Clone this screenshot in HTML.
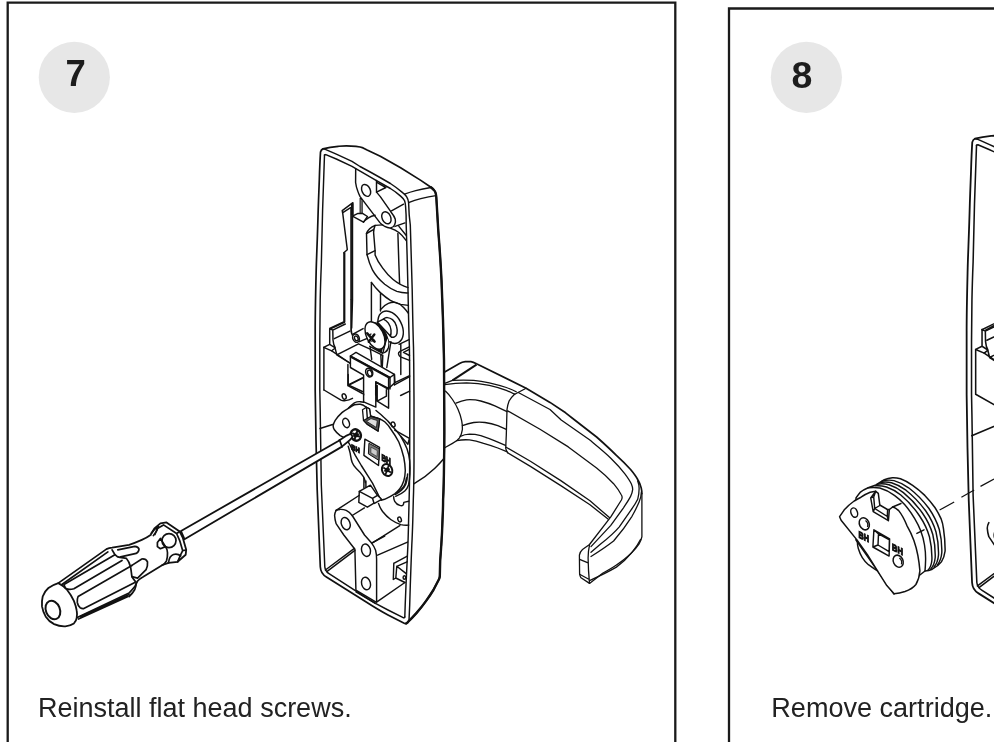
<!DOCTYPE html>
<html><head><meta charset="utf-8">
<style>
html,body{margin:0;padding:0;background:#fff;}
body{width:994px;height:742px;overflow:hidden;position:relative;font-family:"Liberation Sans",sans-serif;}
svg{position:absolute;left:0;top:0;display:block}
svg{filter:grayscale(1)}
.k{fill:none;stroke:#111;stroke-width:1.45;stroke-linecap:round;stroke-linejoin:round}
.w{fill:#fff;stroke:#111;stroke-width:1.45;stroke-linecap:round;stroke-linejoin:round}
.t{fill:none;stroke:#111;stroke-width:1.3;stroke-linecap:round;stroke-linejoin:round}
.tw{fill:#fff;stroke:#111;stroke-width:.9;stroke-linecap:round;stroke-linejoin:round}
.d{fill:none;stroke:#111;stroke-width:1.7;stroke-linecap:round;stroke-linejoin:round}
.b{fill:none;stroke:#111;stroke-width:1.7;stroke-linecap:round;stroke-linejoin:round}
</style></head><body>
<svg width="994" height="742" viewBox="0 0 994 742">
<rect width="994" height="742" fill="#fff"/>
<!-- panels -->
<path d="M7.7 742V2.6H675.3V742" fill="none" stroke="#1a1a1a" stroke-width="2.3"/>
<path d="M729 742V8.5H994" fill="none" stroke="#1a1a1a" stroke-width="2.3"/>
<circle cx="74.3" cy="77.3" r="35.6" fill="#e6e7e8"/>
<circle cx="806.4" cy="77.3" r="35.6" fill="#e6e7e8"/>
<text x="75.6" y="86.2" font-size="36.5" font-weight="700" text-anchor="middle" fill="#1d1d1f">7</text>
<text x="802" y="87.5" font-size="37.5" font-weight="700" text-anchor="middle" fill="#1d1d1f">8</text>
<text x="38" y="716.6" font-size="27" fill="#222">Reinstall flat head screws.</text>
<text x="771.3" y="716.6" font-size="27" textLength="221" lengthAdjust="spacingAndGlyphs" fill="#222">Remove cartridge.</text>
<!-- LEFT DRAWING -->
<g id="plate7">
<!-- outer silhouette -->
<path class="b" d="M320.5 152.1C320 160 319.6 170 319.3 180C318.9 192 318.5 200 318.2 210C317.4 240 316.6 255 316.2 270C315.6 295 315.2 310 315.2 330L315.2 390C315.4 410 315.7 425 316 440L317.2 490L318.8 530L320.3 566.8C320.6 572 322.5 574.8 326.4 577L365 601.3C372 605.8 380 610.8 388 615L403.7 623.1C404.8 623.6 405.6 623.7 406.3 623.4C407.2 623 407.9 622.3 408.5 621.3C411.5 618.5 414 615.8 416.4 613.1C420 609 423.2 605 426.1 600.9C428.8 597.2 431.2 593.6 433.4 590L439 579.2C439.5 578.2 439.7 577.5 439.8 576.2C440 570 440.1 565 440.2 560C440.7 554 441 549 441.3 545C441.9 536 442.3 528 442.5 520C442.9 512 443.1 506 443.1 500C443.6 490 443.9 478 444 465C444.3 450 444.4 435 444.3 420C444.3 400 444.2 380 444 360C443.7 345 443.4 332 443 320C442.6 306 442.1 293 441.5 280C440.6 262 439.5 246 438.3 231C437.6 219 436.9 207 436.3 197.3C436 193.3 435.2 191.4 434.3 190.5C433.3 189.3 432 188.1 430.9 187.3L420.8 180.4L400.6 167.8L380.3 156.2L367.1 150L363.1 147.9C361.5 147.2 359 146.7 356 146.4C353 146.1 349.5 145.9 346.4 145.9C343.5 145.9 341 146.1 338.3 146.3L330.2 147.3L322.9 148.9C321.8 149.3 321 150.3 320.5 152.1Z"/>
<path d="M406.3 623.4C407.2 623 407.9 622.3 408.5 621.3C411.5 618.5 414 615.8 416.4 613.1C420 609 423.2 605 426.1 600.9C428.8 597.2 431.2 593.6 433.4 590L439 579.2C439.5 578.2 439.7 577.5 439.8 576.2C440 570 440.1 565 440.2 560C440.7 554 441 549 441.3 545C441.9 536 442.3 528 442.5 520C442.9 512 443.1 506 443.1 500C443.6 490 443.9 478 444 465C444.3 450 444.4 435 444.3 420C444.3 400 444.2 380 444 360C443.7 345 443.4 332 443 320C442.6 306 442.1 293 441.5 280C440.6 262 439.5 246 438.3 231C437.6 219 436.9 207 436.3 197.3C436 193.3 435.2 191.4 434.3 190.5C433.3 189.3 432 188.1 430.9 187.3" fill="none" stroke="#111" stroke-width="2.4" stroke-linecap="round" stroke-linejoin="round"/>
<!-- front rim outer -->
<path class="k" d="M322.9 148.9L325.3 149.3L336.3 154.2L352 161.4L360 166.5L370.2 172L380 177.5L390.4 183.5C395 186.5 399 189.5 402.6 192.6C405 194.5 406.2 195.8 406.6 196.6C407.8 198.5 408.3 200.5 408.6 202.7L409.2 215L410.3 225L411.2 255L412.2 290C412.6 310 412.9 330 413.5 347C413.8 365 414 385 414 400L414 462C413.9 478 413.7 490 413.3 500L412.8 520C412.5 530 412.2 538 411.8 545L411.2 560L410.3 585L409.7 605L409 620.5"/>
<!-- inner rim -->
<path class="k" d="M324.5 155L325.8 154.6L336.3 159L352 166.3L355.8 168.6L375.2 179.9L390.4 188.5C394.5 191 398 193.8 400.6 196.1C402.8 198 404 199.3 404.6 200.7C405.2 202.5 405.5 204.5 405.6 206.7L406.1 215L406.2 225L407.1 255L408 290C408.4 310 408.8 330 409.4 347C409.7 365 409.8 385 409.8 400L409.7 462C409.6 478 409.4 490 409.1 500L408.6 520C408.4 530 408.2 538 407.9 545L407.2 560L406 585L405.2 605L404.8 617"/>
<path class="k" d="M324.5 155C323.8 175 323.2 195 322.6 210L321.3 265C320.7 280 320.4 290 320.2 300L319.8 340L319.8 390L320.2 410L321.3 485L324.8 566.8C325.2 570.5 326.5 572.2 329.4 573.9L365 596.8C372 601.5 380 606 388 610L403.2 617.7C404 618 404.5 617.8 404.8 617"/>
<!-- top side arcs -->
<path class="k" d="M404.6 194.1C408 192.8 411.8 191.6 415.7 190.6C420.5 189.4 425.5 188.4 430.9 187.5"/>
<path class="k" d="M409.2 202.4C413 200.9 416.8 199.7 420.8 198.6C425.5 197.4 430 196.4 436 195.6"/>
</g>
<g id="top7">
<!-- top bracket link -->
<path class="k" d="M355.7 168.6L355.6 182.5C356 185.5 356.6 188 357.6 190.6C358.3 192.8 359.2 194.8 360.1 196.6L379.7 222.4C381.5 224.6 383 225.8 384.7 226.4C387 227.6 389 228.2 390.8 227.9C393 227.3 394.3 226 394.8 224.4C395.6 222.5 395.6 221 395.3 219.3C394.5 216.5 392.8 214.2 390.8 211.7L380.3 196.6L376.5 192.1L376.5 180.5"/>
<ellipse class="k" cx="366.1" cy="190.4" rx="4.1" ry="6.3" transform="rotate(-25 366.1 190.4)"/>
<ellipse class="k" cx="386.4" cy="217.8" rx="4.3" ry="6.3" transform="rotate(-25 386.4 217.8)"/>
<path class="k" d="M376.5 192.1L385.9 187.5L376.8 182.3M391.5 210.8L403.6 204.2M395 226.4L405 222.9M398.9 226.4L406.3 235.5M390.8 228.4C394 229.5 396.5 230.8 398.9 232.5C401.8 234.8 404 237.5 406.3 240.6"/>
<!-- double shaded vertical -->
<path d="M360.1 198L362.2 200.5V213.4H360.1Z" fill="#999" stroke="#111" stroke-width="1"/>
<!-- small box -->
<path class="k" d="M352.4 216.1L358 213.4L362.5 213.4L367.5 216.5L363.5 222.2Z"/>
<path class="k" d="M363.5 222.2C365 220 366.5 219 368.5 217.8C370.5 216.6 372.8 215.8 375.1 215.3"/>
<!-- left tab -->
<path class="k" d="M352.9 215.3V202.6L342.2 210.7L342.8 213.8L347.3 249.7L343.8 252.7"/>
<path d="M344.3 252.5V322L329.8 328.7" fill="none" stroke="#111" stroke-width="2.2" stroke-linejoin="round"/>
<path d="M352.1 203.5V215" fill="none" stroke="#111" stroke-width="2.4"/>
<path class="k" d="M342.8 212.7L350.6 207.7"/>
<path d="M351.1 207.5V300" fill="none" stroke="#111" stroke-width="1.7"/>
<!-- big opening -->
<path class="k" d="M382.7 224.9L375.1 225.4C371 227 367.8 230 366.5 233.5L367 254.7C368.3 260 370 265 372.6 270.2C375.5 275.5 379.5 280 384.7 284.3C388.5 287.3 392.5 289.8 396.8 291.4C400.5 292.5 404 293 408 292.9"/>
<path class="k" d="M375.1 225.4C374 228 373.6 230 373.6 232.5L375.1 250.7V255C377 260 379.5 264 382.7 268.1C385.5 272 389 276 392.8 279.3C397 282.8 402 285.8 408 287.6"/>
<path class="k" d="M367 254.7L375.1 250.7M366.5 233.5L373.4 229.6M352.5 216V300L351.7 328"/>
<path class="k" d="M371.4 282.4C374 286 377 289.5 380.3 292.6C383.5 295.5 387 298.2 390.4 300.3C393.8 302.2 397 303.5 400.6 304.4L408.4 305.4"/>
<path class="k" d="M371.4 282.4V322M380.5 293.8V311M397.9 233.5L398.9 265L399.6 283.5"/>
</g>
<g id="cart7">
<!-- back plate behind T clip -->
<path class="k" d="M324 390L341 400.2C342.5 400.9 343.8 401 345.4 400.6C348 400.2 350.3 399.4 352.5 398.3"/>
<ellipse class="k" cx="344.2" cy="396.5" rx="1.9" ry="2.8" transform="rotate(-20 344.2 396.5)"/>
<!-- T stem & pockets -->
<path class="k" d="M363.6 394V401.9L375.8 407.1V382L388.6 388.4V377.5M388.6 388.4V408.2L377.2 401.1V385.5M377.2 401.1L386.4 396.2V389.8"/>
<path class="k" d="M394.4 374.4L394.9 382.7L388.6 388.4M394.9 382.7L409.6 375.7M400.6 395.5L409.6 391.2"/>
<path class="k" d="M348.2 374.5V384.9L362.4 391.5M348.2 384.9L362.4 377.8"/>
<!-- line from rim to disc corner -->
<path class="k" d="M320 428.5L332.6 424.5"/>
<!-- disc outer edge (thickness) -->
<path class="k" d="M348.3 408.3C350.5 406 352.3 404.3 354.4 402.8C356.5 401.8 358.5 401.5 360.4 401.7L363.6 402.3"/>
<path class="k" d="M376 410.5C378.5 412.5 381 414.5 383.5 417C386.5 419.5 389 421.8 390.8 424.5C394.5 428.5 398 432.5 400.9 436.6C403.5 441 405.5 445 407 448.8C408.5 453 409.3 457 409.7 461C410.1 466 410.1 470 409.9 474C409.7 478 409.3 482 408.5 485C407.5 488 406 490 404.8 491C402 493.5 399 495 395.7 496.3"/>
<path class="k" d="M407.6 474C407.4 478 406.8 481.5 405.8 484.3C404.6 487 403 489 401.5 490.3C399.5 492 397.5 493.4 395.2 494.6M406.4 478C406 481.5 405 484.5 403.6 486.8C402 489 400 491 397.5 492.8"/>
<!-- disc face -->
<path class="w" d="M333.1 425.5C333.6 423.5 334.3 422 335.2 420.4C337.2 417.5 339.5 414.8 342.2 412.4C344.5 410.5 346.8 409.2 349.3 407.8C351 406.5 352.6 405.5 354.4 404.8C356.5 404.3 358.4 404.2 360.4 404.3L363.5 405.3L366.5 407.3L369.5 408.8L370.6 415.9L379.7 418.9C381.8 419.8 383.5 420.8 385 422C387.2 424 389 426.3 390.7 429C393.8 433.3 396.5 437.5 398.8 442C401 447 402.6 452.5 403.8 457.5C404.7 462 405.2 466.5 405.3 470.6C405.2 474.5 404.7 477.8 403.8 480.7C402.8 483.8 401.5 486.5 399.8 488.8C398.3 490.8 396.6 492.4 394.7 493.8C391 496.3 387.5 498 384.6 499.3L381 500.3L372.5 483.1L368.4 476.6L361.3 465.5L355.3 455.4L350.2 445.3L346.3 438.6L340.2 435.6C337.5 433.5 335.5 431.5 334.2 429.5C333.4 428 333.1 427 333.1 425.5Z"/>
<!-- wavy curve left-bottom -->
<path class="k" d="M348.2 446.3C349 449 349.7 451 350.2 453.4C350.8 457 351.2 460 352.2 462.5C353.2 465 354.5 466.8 356.3 468.5C359 471 361.5 473.8 363.4 476.6C364.5 478.5 365.1 480.5 365.4 482.7"/>
<!-- notch -->
<path d="M362.5 409.8L366.5 407.3L369.5 408.8L370.6 416.2L379.7 418.9L378.1 431.1L367.5 424.5L363.5 420.4Z" fill="#fff" stroke="#111" stroke-width="1.3" stroke-linejoin="round"/>
<path d="M363.5 420.4L370.6 416.4L379.7 418.9L378.1 431.1L367.5 424.5Z" fill="#555" stroke="#111" stroke-width="1.2" stroke-linejoin="round"/>
<path d="M366.5 421.3L371 418.6L377.3 420.5L376.4 427.5Z" fill="#ddd" stroke="#111" stroke-width=".8"/>
<path class="k" d="M366.5 407.3L367.3 418"/>
<!-- holes -->
<ellipse class="k" cx="346.1" cy="423" rx="3.2" ry="4.8" transform="rotate(-20 346.1 423)"/>
<ellipse class="k" cx="393.1" cy="424.5" rx="1.9" ry="2.6" transform="rotate(-20 393.1 424.5)"/>
<path class="k" d="M394.7 430.1L409 438.2M400.8 436.2L407.9 444.3L409.3 439"/>
<!-- square logo -->
<path class="k" d="M364.9 439.2L379.5 447.3L378.5 465.5L363.9 455.4Z"/>
<path d="M368.9 443.3L379.3 448.8L378.9 460.4L368.4 453.9Z" fill="#777" stroke="#111" stroke-width="1"/>
<path d="M371 447.2L377.3 450.6L377 456.5L370.8 452.8Z" fill="#ccc" stroke="#333" stroke-width=".7"/>
<text transform="matrix(.9 .43 0 1 351.2 449.2)" font-size="7.2" font-weight="700" fill="#111" stroke="#111" stroke-width="1.1" textLength="9.5" lengthAdjust="spacingAndGlyphs">BH</text>
<text transform="matrix(.9 .45 0 1 381.4 460.2)" font-size="9" font-weight="700" fill="#111" stroke="#111" stroke-width="1.1" textLength="10.5" lengthAdjust="spacingAndGlyphs">BH</text>
<!-- screws on disc -->
<ellipse cx="387.1" cy="470" rx="5" ry="6.2" transform="rotate(-25 387.1 470)" fill="#fff" stroke="#111" stroke-width="2"/>
<path d="M383.3 467.5L390.9 472.5M388.8 465.3L385.4 474.7M384.5 471.5L387 468M389.5 468.5L387.3 472" stroke="#111" stroke-width="1.7" fill="none"/>
<ellipse cx="355.8" cy="435" rx="5" ry="5.8" transform="rotate(-25 355.8 435)" fill="#fff" stroke="#111" stroke-width="2.4"/>
<path d="M352.2 433.2L359.8 436.8M357.5 430.5L354.5 439.5M353.5 436.5L356 433M358.5 433.5L356.3 437" stroke="#111" stroke-width="2" fill="none"/>
</g>
<g id="low7">
<!-- verticals under disc -->
<path class="k" d="M363.9 478V487.7M365.9 481V487"/>
<!-- small block -->
<path class="w" d="M359.3 491.4L370.4 485.2L377.5 495.3L381.6 499.3L374.5 503.4L374 503.2L367.4 507.2L358.8 502.4Z"/>
<path class="k" d="M359.3 491.4L372.5 498.3L374 503.2M372.5 498.3L377.5 495.3"/>
<!-- curved housing -->
<path class="k" d="M378.5 503.4C379.5 506.5 380.8 509 382.6 511.5C385 514.5 387.5 517.2 390.7 519.5C394 521.8 397.3 523.5 400.8 524.6C403.5 525.2 406 525.3 408.6 525.1"/>
<path class="k" d="M393.7 496.8C393.6 498.8 393.9 500 394.7 501.3C396 503.5 397.8 504.8 399.8 505.4C401 505.8 402 505.8 402.8 505.4C403.5 504.5 403.8 503.5 403.8 502.4L408.6 501.3"/>
<ellipse class="k" cx="399.6" cy="519.5" rx="1.7" ry="2.5" transform="rotate(-20 399.6 519.5)"/>
<!-- lower bracket -->
<path class="k" d="M336.1 510.4L359 495.5"/>
<path class="k" d="M352.2 515.5L364.4 507.9M372.5 542.8L399.8 525.6"/>
<path class="k" d="M336.1 510.4C335 512.5 334.6 514 334.6 515.6C334.8 518.5 335.3 521 336.1 523.6L343.8 535L354.9 549.2L355.9 590.1L376.1 602.2"/>
<path class="k" d="M356 592L375.3 603.5"/>
<path class="k" d="M336.1 510.4C337.5 509.7 338.8 509.4 340.1 509.4C342.3 509.3 344.3 509.6 346.2 510.4C348.5 511.5 350.5 513.2 352.2 515.5L364.5 535L371.6 543.1C373.3 545.3 374.6 547.5 375.6 550.2C376.3 553 376.6 556 376.6 559.3V602.2L404.9 582.5"/>
<ellipse class="k" cx="345.7" cy="523.6" rx="4.3" ry="6.3" transform="rotate(-20 345.7 523.6)"/>
<ellipse class="k" cx="366" cy="550.2" rx="4.4" ry="6.3" transform="rotate(-15 366 550.2)"/>
<ellipse class="k" cx="366" cy="583.5" rx="4.4" ry="6.3" transform="rotate(-15 366 583.5)"/>
<path class="k" d="M371.6 543.1L384.7 536M377.6 555.2L407.5 542.1"/>
<!-- floor edge -->
<path class="k" d="M325.4 570L354.4 548.4M326.8 571.6L354.9 550.4"/>
<!-- small box right -->
<path class="k" d="M393.8 563.3L407.3 556.2M393.8 563.3L393.3 579.5L395.8 578L404.9 582.5M396.8 566.3L407 561.8M396.8 566.3L395.8 578M396.8 566.3L405.9 573.4"/>
<ellipse class="k" cx="404.4" cy="577.5" rx="1.3" ry="1.8"/>
<!-- line on side face -->

</g>
<g id="screw7">
<!-- boss back -->
<path class="k" d="M380.5 309.6C382.5 307 385 304.8 388.4 303.4C391 302.3 393.5 302 395.5 302.4C398.5 303 401.2 304.8 403.6 307.4C405.3 309.2 406.8 311 408.4 313.2"/>
<!-- boss front ellipse -->
<ellipse class="w" cx="390.6" cy="327.2" rx="11.3" ry="17.2" transform="rotate(-27 390.6 327.2)"/>
<!-- collar -->
<path class="w" d="M383.4 319.1C385 317.8 386.3 317.5 387.4 317.6C389.5 317.8 391 318.5 392.5 319.6C394.5 321.3 395.8 323.5 396.5 326.2C397.2 328.5 397.3 331 397 333.3C396.6 335 395.8 336.2 394.5 336.8C393.5 337.3 392.5 337.4 391.5 337.3L377.3 322.1Z"/>
<path class="k" d="M383.4 319.1C385.5 320 387 321.3 388.4 323.1C389.8 325 390.7 327.5 391 330.2C391.2 332.5 391 334.5 390.4 336.3"/>
<!-- head side -->
<ellipse cx="378.6" cy="337.6" rx="8.3" ry="16" transform="rotate(-25 378.6 337.6)" fill="#111" stroke="#111" stroke-width="1.2"/>
<path d="M381.5 353.2C384 352.5 386.5 350.5 387.8 347.4C388.6 344.5 388.4 341.5 387.6 338.5L383 348Z" fill="#fff" stroke="none"/>
<!-- head -->
<ellipse class="w" cx="375" cy="335.5" rx="8.4" ry="14.8" transform="rotate(-27 375 335.5)"/>
<!-- phillips -->
<path d="M367.2 333.3L374.6 341.6M374.3 334.6L368.8 341.8" fill="none" stroke="#111" stroke-width="2.5" stroke-linecap="round"/>
<path d="M368.8 335.2L371 334M371.8 341.2L373.8 339.8" fill="none" stroke="#111" stroke-width="1.3" stroke-linecap="round"/>
</g>
<g id="mid7">
<!-- tab bottom block -->
<path class="k" d="M329.7 328.6L332.8 330.1L345.3 324M329.7 328.6V344.3L323.7 347.3L331.7 350.8L335.3 348L329.7 344.3M332.8 330.1L333 340C333.3 343.5 334 346 335.3 348"/>
<path class="k" d="M323.9 347.3V390"/>
<path class="k" d="M331.7 350.8L349.9 363"/>
<!-- ledge -->
<path class="k" d="M334.3 338.7L349.9 331.1M335.3 348.8L336.8 354.9L358.5 343.8L370.7 349.3M336.8 354.9L350.4 363.5"/>
<!-- left wall edge to pin hole -->
<path class="k" style="stroke-width:1.7" d="M351.1 300V330C351.2 332.5 351.7 333.8 352.5 335.2L355.5 341.7"/>
<path class="k" d="M353 334.2L363.1 328.6M359.5 341.7L366.6 338.7"/>
<ellipse class="w" cx="356" cy="338.2" rx="3.2" ry="4.3" transform="rotate(-25 356 338.2)"/>
<ellipse class="k" cx="356.3" cy="338.4" rx="1.7" ry="2.5" transform="rotate(-25 356.3 338.4)"/>
<!-- clip under screw -->
<path class="k" d="M369.7 346.3L382.8 353.4L386.8 337.2M370.7 349.3L381.8 354.9M370.2 347.8L371.7 359.4M380.8 354.5L381.3 365.6M382.8 355.3L382.3 366.6M390.9 341.7L386.8 367.5"/>
<!-- right notch -->
<path class="k" d="M399 344.3L409 339.7M400.8 343.6V374.6"/>
<path class="k" d="M409.3 346.8L400 351.3C398.6 352.2 398.3 353 398.5 353.9C398.8 355.3 399.5 356.2 400.5 356.9L409.5 360.4M409.3 349.3L403.5 352.3L409.5 355.5"/>
<path class="k" d="M394.9 384.7L409.6 376.6"/>
<!-- T clip -->
<path class="w" d="M350.4 356L356 352.4L394.4 374.4L390 377.5Z"/>
<path d="M350.4 356.6L390 378" fill="none" stroke="#111" stroke-width="2"/>
<path class="k" d="M394.4 374.4V385M390 377.5V389"/>
<path class="k" d="M350.4 356V367.5L363.6 375.1V395M375.7 382V395M375.7 382L388 389"/>
<path class="k" d="M347.9 364.5V385.7L362.5 393.5M347.9 385.7L362.6 378.1"/>
<ellipse class="k" cx="369.2" cy="372.6" rx="3.4" ry="4.5" transform="rotate(-25 369.2 372.6)"/>
<ellipse class="k" cx="369.7" cy="373.1" rx="2.1" ry="3.1" transform="rotate(-25 369.7 373.1)"/>
</g>
<g id="handle7">
<!-- outer silhouette -->
<path class="b" d="M444.7 371.9L459.5 363.4C461.5 362.3 463.3 361.8 465.2 361.6L470.9 361.6C473 361.9 474.8 362.8 476.5 363.7L526.1 388.2L550 402.4L565.6 412.8L574.7 420L596.6 437C604 443.5 610.5 449.5 616.4 455.4C622 460.5 626.5 465 630.6 469.5C633.5 473 636 476.3 637.7 479.5C639.5 482.5 640.6 485.3 641.2 487.9C641.7 490 641.9 491.8 641.9 493.6"/>
<path class="t" d="M641.9 493.6V536.7C641.5 539.5 640.6 541.5 639.1 543.8C636.8 547.3 634 550.5 630.6 553.7C626.5 557.8 621.5 561.5 616.4 565C612 568 607 570.8 602.3 573.5L589.5 583.4L581 577.8C580.1 576.5 579.7 575 579.6 573.5L579.4 555.1C579.8 552.8 580.8 551 582.5 549.5L589.5 544.5L610.8 516.9L621.4 500C622 498.8 622.2 498 622.1 497.1C622 496.2 621.8 495.6 621.4 495C619.5 491.5 616.8 487.5 613.6 483.7C608.5 478.3 603 473.2 596.6 468.1L568.3 446.9L540 429.2L507.7 410.9"/>
<!-- thick diagonal on top -->
<path d="M452.5 380.4L476.5 364.6" fill="none" stroke="#111" stroke-width="2"/>
<path class="t" d="M444.7 383.3L452.5 380.4"/>
<!-- neck top curves -->
<path class="t" d="M452.5 380.4C460 380 467 380 473.7 380.4C479 380.9 484 381.7 489.3 382.8C495 384.1 501 385.7 506.3 387.5C510 388.8 513.5 390.2 516.2 391.8"/>
<path class="t" d="M444.7 384.7C452 383.5 459 382.9 466.6 382.8C474 383 482 383.9 489.3 385.4C495 386.7 501 388.3 506.3 390.3C509 391.4 511.8 392.8 514.8 394.3L526.1 388.2"/>
<!-- seam -->
<path class="t" d="M514.8 393.9C512.5 396 510.5 398.5 509.1 401C508 403.8 507.3 406.5 507 409.5L506.3 434.9L505.7 448.2C506 450.3 506.6 451.6 507.7 452.8"/>
<!-- inner top edge -->
<path class="t" d="M518.3 392.5L550 409.5L561.2 420L589.5 439.8C597 446 604.5 452 610.8 458.2C616 463.3 620.8 468.5 624.9 473.8C627.5 477.3 629.8 480.6 631.3 483.7C632.3 486 632.7 487.8 632.7 489.4C632.4 492 631.8 494 630.6 496.4C628.6 500.3 626 504 623.5 507.8L610.8 525.4L591 546.6"/>
<!-- neck ellipse -->
<path class="t" d="M445.4 391.1C448 393.5 450.3 396.3 452.5 399.5C454.8 402.8 456.6 406 458.1 409.5C459.8 413.3 460.9 417 461.7 420.8C462.3 423.8 462.5 426.5 462.4 429.3C462 432.5 461 435.3 459.5 437.8C457.8 440.3 455.3 442 452.5 443.4L444.7 447.7"/>
<path class="t" d="M456 403.1C459.5 401.5 463 400.3 466.6 399.8C471.5 399.5 476 399.8 480.8 401C485.5 402.3 490.3 403.9 494.9 405.9L507 411.6"/>
<path class="t" d="M462.4 425.7C466 424.2 470 423 473.7 422.5C477.5 422 481 422 485 422.5C489.5 423.2 493.8 424.3 497.8 425.7L506.3 429.3"/>
<path class="t" d="M460.3 436.4C463.3 435 466.5 434.3 469.5 434.2C473.3 434.2 477 434.7 480.8 435.6C485.8 437.3 490.5 439 494.9 440.8L505.5 445.4"/>
<path class="t" d="M456.7 440.6C461 439.8 465.3 439.6 469.5 439.9C474.3 440.5 479 441.8 483.6 443.4C488.5 444.8 493.3 446.3 497.8 448L506.7 451.7"/>
<!-- lever lower edge -->
<path class="t" d="M506.2 447.2L530.4 461.3L560.8 480.6L590 500.8L609.4 517.6"/>
<path class="t" d="M507.7 452.8L530.4 466.4L560.8 485.6L590 504.8L608 519"/>
<!-- bend lines -->
<path class="t" d="M637.7 480.9C638.7 483.5 639.1 485.5 639.1 487.9C639.2 492 638.7 495.5 637.7 499.3C635.8 503.3 633.3 507 630.6 510.6L619.3 526.8C614 533 607.5 538.5 600.9 543.8L591 552.3"/>
<path class="t" d="M641.4 492C641.3 495.5 640.5 498.8 639.1 502.1C637 507 634.5 511.8 632 516.3C626.5 525 620 533.5 613.6 541C606.5 546.5 599 551.5 591 556.5"/>
<!-- end face -->
<path class="t" d="M589.5 545.2C588.5 549.5 588.1 553.5 588.1 558C588.2 566 588.7 575 589.5 583.4M579.6 559.4L588.1 562.9M579.6 574.2L588.8 579.2"/>
<path class="t" d="M589.5 580.6C598.5 576.5 608 572 616.4 567.1C622.5 562.8 627.5 557.8 632 552.3C635.5 548 638.3 544 640.5 539.5"/>
<!-- curve on plate side -->
<path class="k" d="M414.2 483.7C422 479.3 429 474 434.6 468.6C438.3 465 441 462 443.5 459"/>
</g>
<g id="driver7">
<!-- shaft -->
<path class="w" d="M181 531L338.4 441L346.6 435.6L350.7 433.8L352.6 436.8L349.7 440.3L341.6 446.9L184.5 539.2Z" style="stroke-width:1.8"/>
<path class="d" d="M339.5 439.8L342.1 446.9"/>
<!-- handle body -->
<path d="M58.3 583.1L106.4 549.1C108.5 548.2 110 547.9 112.1 547.7L129.1 544.9C133.5 543.5 137.5 541.8 141.8 539.9C145.5 538.3 148.5 536.5 151.3 534.5L162.5 565L143.3 576.7C140.5 578.3 138.8 579.5 137.6 581C136.5 583 135.8 584.8 134.8 586.6C133 589 131 591 129.1 593L76.7 617.8Z" fill="#fff" stroke="none"/>
<path class="d" d="M58.3 583.1L106.4 549.1C108.5 548.2 110 547.9 112.1 547.7L129.1 544.9C133.5 543.5 137.5 541.8 141.8 539.9C145.5 538.3 148.5 536.5 151.3 534.5M162.5 565L143.3 576.7C140.5 578.3 138.8 579.5 137.6 581C136.5 583 135.8 584.8 134.8 586.6C133 589 131 591 129.1 593L76.7 617.8"/>
<!-- end cap -->
<path class="w" d="M58.3 583.1C54.5 584.3 51.3 585.8 48.4 588C45.5 590.5 43.7 593.3 42.7 596.5C41.9 599.8 41.7 603 42 606.4C42.6 610 43.8 613.3 45.6 616.4C47.8 619.8 50.5 622.3 54.1 624.1C57.8 625.8 61.5 626.5 65.4 626.3C68.5 626 71.5 625 73.9 623.4C75.5 621.8 76.4 620 76.7 617.8C77.2 615.5 77.2 613.3 76.7 610.7C76.2 607.3 75.2 604 73.9 600.8C72 596.8 69.6 593 66.8 589.5C64.3 586.8 61.5 584.7 58.3 583.1Z" style="stroke-width:1.8"/>
<ellipse cx="52.9" cy="610" rx="7" ry="9.6" transform="rotate(-22 52.9 610)" fill="none" stroke="#111" stroke-width="2"/>
<!-- grooves -->
<path class="d" d="M61.9 584.5L107.9 551.9"/>
<path class="d" d="M114.9 554.8L64 584.5C64.3 586.5 65 587.8 66 588.5C68 589.8 71 589.6 73.9 588.7L122 560.4"/>
<path class="d" d="M131.9 565.4L78.1 596.5C77.2 598.5 77 600.5 77.3 602.5C77.8 605 78.8 606.8 80.2 607.8C81.3 608.5 82.5 608.8 83.8 608.6L134.8 582.4"/>
<path class="d" d="M80.5 616.5L129 594.5M78.5 619L128 596.5"/>
<!-- mid ring -->
<path class="d" d="M112.1 549.8C113.5 553 115.5 555.5 117.8 556.9C120.5 557.8 123.5 557.8 126.3 558.3C128.3 560.5 129.6 563.5 130.5 566.8C131.2 570 131.4 573.5 131.9 576.7C133 579 134.8 580.8 136.2 582.4C136.3 585 135.8 587.3 134.8 589.5C133.3 592.3 131.3 594.5 129.1 596.5"/>
<!-- finger notches -->
<path class="d" d="M117.8 549.8L134.8 546.3C137 546.5 138.5 547.5 139 549.1C139 551 138 552.5 136.2 553.4L120.6 556.9"/>
<path class="d" d="M131.9 565.4L141.8 559C144.5 558.7 146.5 559.8 147.5 561.9C147.8 564.5 147.3 567 146.1 569.6L137.6 578.1L131.9 576.7"/>
<!-- collar -->
<path class="w" d="M151.3 533.5L154.4 528.4L160.4 523.4L166.5 522.4L179.7 531.5L182.7 537.5L186.2 549.7L185.7 554.7L177.6 561.8L168.5 562.8L162.5 565" style="stroke-width:1.8"/>
<path class="d" d="M154.9 534.5L157.4 528.4L163.5 524.9L176.6 533.5L179.7 540.6L182.7 550.7L180.7 554.7M176.6 533.5L179.7 531.5M180.7 554.7L177.6 561.8M182.7 550.7L186 550"/>
<circle class="d" cx="169" cy="540.6" r="7"/>
<path class="d" d="M157.4 542.6L160.4 538.5L165.5 546.6L160.4 548.7L157.4 546.6ZM168.5 562.8C169 558 170.5 555.5 173.5 554.5C176.5 553.8 179 554.5 180.7 556"/>
<path class="d" d="M151.3 533.5C153 530.5 155.5 528 158.4 526.4C157.8 529.5 155.8 532.8 153.4 535.5M165.5 546.6C166.8 548.5 167.4 550.5 167.5 552.7C167.6 555.5 167.3 558 166.5 560.8C165.5 562.6 164.2 564 162.5 565"/>
</g>
<g id="right8">
<use href="#plate7" transform="translate(631.9 -19.4) scale(1.062)"/>
<g transform="translate(631.9 -19.4) scale(1.062)">
<path class="k" d="M342.2 210.7L342.8 213.8L347.3 249.7L343.8 252.7V321.7L329.6 328.8M345.3 252V322.5L333.1 329.2"/>
<path class="k" d="M329.7 328.6L332.8 330.1L345.3 324M329.7 328.6V344.3L323.7 347.3L331.7 350.8L335.3 348L329.7 344.3M332.8 330.1L333 340C333.3 343.5 334 346 335.3 348"/>
<path class="k" d="M323.7 347.3V389.5L345 401.5"/>
<path class="k" d="M331.7 350.8L349.9 363M334.3 338.7L349.9 331.1M335.3 348.8L336.8 354.9L358.5 343.8M336.8 354.9L350.4 363.5"/>
<path class="k" d="M320 428.5L345 418"/>
<path class="k" d="M325.4 570L354.4 548.4M326.8 571.6L354.9 550.4"/>
<ellipse class="k" cx="345.7" cy="523.6" rx="4.3" ry="6.3" transform="rotate(-20 345.7 523.6)"/>
<path class="k" d="M336.1 510.4C335 512.5 334.6 514 334.6 515.6C334.8 518.5 335.3 521 336.1 523.6L343.8 535"/>
</g>
<!-- dashed axis -->
<path d="M939.6 510.1L954.2 501.9M961.4 497.3L974.2 490M980.5 486.4L994 479.1" fill="none" stroke="#111" stroke-width="1.2"/>
<!-- cartridge threaded body -->
<path class="w" d="M856 497.9C857.3 496 858.7 494 860.1 492.4C862.5 490.5 865.3 489 868.2 487.8L875.2 485.3L884.3 479.7C887 478.6 889.8 478 892.4 477.7C895.2 477.6 898 478 900.5 478.7C904.8 480.3 908.8 482.6 912.6 485.3C917 488.3 921 491.7 924.8 495.4C928.5 499.2 932 503.3 934.9 507.5C937.3 511.2 939.3 514.8 941 518.6C942.3 522 943.1 525.3 943.5 528.8C944.6 536 945.2 543.5 945.1 551C944.6 555.3 943.3 558.8 941.4 561.9C939 565 935.8 567.4 932.3 569.2C930 570.2 927.5 570.8 925 571L919.9 575L894 594L856 540Z" style="stroke-width:1.5"/>
<!-- thread arcs -->
<path class="k" d="M882 481.2C886 480 890 479.8 894 480.6C899 482 904 484.5 908.6 487.8C916 493.5 923 500.5 929 508.5C933.5 515 937 522 939.3 529.5C941.2 537 942 545 941.8 552.5C941.4 557.5 940 561.5 937.6 564.8"/>
<path class="k" d="M879.6 482.7C883.5 481.7 887.5 481.7 891.5 482.7C896.5 484.2 901.5 486.8 906 490.2C913.3 496 920 503 925.8 511C930.3 517.5 933.8 524.5 936 532C937.9 539.5 938.7 547.5 938.5 555C938.1 560 936.6 564 934 567"/>
<path class="k" d="M877.3 484.2C881 483.5 885 483.7 889 484.8C894 486.4 899 489.1 903.4 492.6C910.6 498.5 917.2 505.5 922.7 513.5C927.2 520 930.6 527 932.8 534.5C934.6 542 935.4 550 935.2 557.5C934.8 562.3 933.4 566 930.8 569"/>
<path class="k" d="M875.2 485.8C879 485.5 882.7 485.9 886.5 487C891.5 488.7 896.3 491.5 900.8 495C908 501 914.3 508 919.6 516C924 522.5 927.4 529.5 929.5 537C931.3 544.5 932.1 552.5 931.9 560C931.6 564 930.4 567.5 928 570.3"/>
<path class="k" d="M868.2 487.8C872 487.3 876 487.3 879.8 488C885 489.5 890 492 894.4 495.4C898 498 901.5 501 904.6 504.5C908.5 509 911.8 513.7 914.7 518.6C917.3 523 919.3 527 920.7 530.8C922.5 535.5 923.8 540.5 924.5 545C925.3 550 925.7 555 925.6 560C925.5 564 925.3 567.5 925 571"/>
<path class="k" d="M916.9 533.4L924 529.8M892.6 507L901 503.5"/>
<!-- face -->
<path class="w" d="M839.6 516.7L844.1 510.1C847 506.7 850.3 503.7 854.2 501C856.5 499.5 858.8 498.2 861 497.2C864 495.2 867 493.5 870.2 492.3L875.7 491.3L878.3 493.4L879.8 505L887.4 509.5L889.4 509.5L892.6 507C894.5 507.3 896.5 508.5 898.7 510.6C901.8 514.5 904.5 519.5 906.8 525.3C909.5 530 912 535 913.9 540.4C915.6 545.3 917 550.3 917.9 555.6C918.8 560.5 919.5 565.5 919.9 570.8C919.6 575.5 918.5 580 915.9 584.5C913.5 587.5 910 589.8 905 591.5C901.5 592.6 898 593.4 894.1 593.8L886.8 585.6L877.5 570.8L867.4 554.6L857.3 540.4L841.1 520.2Z" style="stroke-width:1.5"/>
<path class="k" d="M857.3 540.4C857.3 543.5 857.6 546 858.3 548.5C859.3 551.8 860.6 554.8 862.3 557.6C864 560.3 866 562.7 868.4 564.7L874.4 568.8L877.5 570.8"/>
<!-- notch -->
<path class="k" d="M870.7 497.9L875.7 491.3M870.7 497.9L873.2 511.6L888.4 520.7L889.4 509.5M870.7 497.9L873.7 497L875.7 491.3M873.7 497L874.7 508.5L873.2 511.6M874.7 508.5L879.8 505.5M874.7 508.5L887.3 516.5L888.4 520.7M887.3 516.5L887.6 509.8"/>
<!-- holes/screws -->
<ellipse class="k" cx="854.2" cy="512.6" rx="3.2" ry="4.8" transform="rotate(-20 854.2 512.6)"/>
<ellipse cx="864.3" cy="523.8" rx="4.8" ry="6.3" transform="rotate(-25 864.3 523.8)" fill="none" stroke="#111" stroke-width="1.5"/>
<path d="M865.5 520.5C867.5 522 868.3 524.5 867.5 527" fill="none" stroke="#111" stroke-width="1.3"/>
<ellipse cx="898.2" cy="561.2" rx="4.8" ry="6.3" transform="rotate(-25 898.2 561.2)" fill="none" stroke="#111" stroke-width="1.5"/>
<path d="M899.4 557.9C901.4 559.4 902.2 561.9 901.4 564.4" fill="none" stroke="#111" stroke-width="1.3"/>
<text transform="matrix(.9 .43 0 1 858.6 537.6)" font-size="9.5" font-weight="700" fill="#111" stroke="#111" stroke-width="1.1" textLength="11.5" lengthAdjust="spacingAndGlyphs">BH</text>
<text transform="matrix(.9 .45 0 1 892 550)" font-size="9.5" font-weight="700" fill="#111" stroke="#111" stroke-width="1.1" textLength="12" lengthAdjust="spacingAndGlyphs">BH</text>
<!-- square -->
<path class="k" d="M873.9 529.8L889.6 538.9L889.1 556.1L872.9 547ZM878.5 533.9L889.4 539.9L889.1 551.6L878 545ZM873.9 529.8L878.5 533.9M872.9 547L878 545"/>
</g>
</svg>
</body></html>
